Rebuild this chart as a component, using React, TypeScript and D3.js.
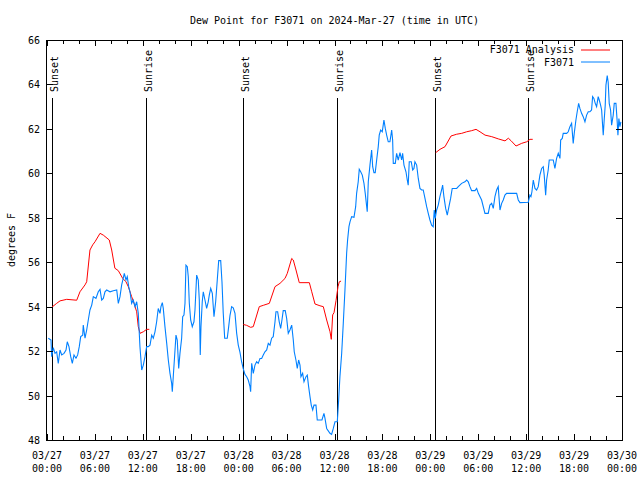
import React from "react";
import * as d3 from "d3";

const title = "Dew Point for F3071 on 2024-Mar-27 (time in UTC)";
const yLabel = "degrees F";
const yTicks = [48, 50, 52, 54, 56, 58, 60, 62, 64, 66];
const xTickHours = [0, 6, 12, 18, 24, 30, 36, 42, 48, 54, 60, 66, 72];
const xTickDates = ["03/27", "03/27", "03/27", "03/27", "03/28", "03/28", "03/28", "03/28", "03/29", "03/29", "03/29", "03/29", "03/30"];
const xTickTimes = ["00:00", "06:00", "12:00", "18:00", "00:00", "06:00", "12:00", "18:00", "00:00", "06:00", "12:00", "18:00", "00:00"];
const sunHours = [0.59, 12.43, 24.58, 36.35, 48.63, 60.27];
const sunLabels = ["Sunset", "Sunrise", "Sunset", "Sunrise", "Sunset", "Sunrise"];
const seriesNames = ["F3071 Analysis", "F3071"];
const seriesColors = ["#ff0000", "#0080ff"];

const analysis1: [number, number][] = [[0.59,53.97],[1.21,54.15],[1.63,54.26],[2.47,54.33],[3.72,54.29],[4.13,54.67],[4.76,54.98],[4.97,55.12],[5.38,56.55],[5.72,56.78],[6.01,56.92],[6.64,57.3],[7.05,57.22],[7.80,57.0],[8.10,56.55],[8.50,55.73],[8.93,55.62],[9.48,55.27],[9.89,55.12],[10.18,54.9],[10.60,54.45],[10.90,54.15],[11.23,53.77],[11.43,53.1],[11.65,52.8],[12.06,52.87],[12.48,52.98],[12.81,52.98]];
const analysis2: [number, number][] = [[24.58,53.2],[25.0,53.16],[25.5,53.07],[25.83,53.1],[26.58,54.0],[27.08,54.06],[27.84,54.15],[28.55,54.9],[29.18,55.05],[29.8,55.27],[30.09,55.5],[30.64,56.17],[30.84,56.1],[31.18,55.65],[31.59,55.08],[32.85,55.08],[33.15,54.67],[33.56,54.12],[34.18,54.04],[34.6,54.0],[35.02,53.4],[35.44,52.87],[35.6,52.53],[35.77,53.63],[35.94,53.73],[36.19,54.27],[36.44,54.9],[36.6,55.12],[36.82,55.15]];
const analysis3: [number, number][] = [[48.67,60.93],[49.21,61.08],[49.84,61.2],[50.59,61.68],[51.3,61.76],[51.93,61.8],[52.55,61.87],[53.18,61.92],[53.72,61.98],[54.22,61.87],[54.85,61.72],[55.69,61.65],[56.51,61.55],[57.35,61.46],[57.77,61.58],[58.1,61.47],[58.73,61.23],[59.44,61.35],[60.07,61.42],[60.48,61.53],[60.82,61.53]];

const observed: [number, number][] = [[0.16,52.58],[0.50,52.5],[0.59,51.75],[0.79,52.16],[1.00,51.9],[1.21,51.97],[1.41,51.45],[1.63,52.05],[1.84,51.83],[2.13,51.9],[2.38,52.05],[2.54,52.42],[2.75,52.2],[2.97,51.75],[3.17,51.45],[3.38,51.83],[3.63,51.68],[3.84,51.83],[4.04,52.2],[4.22,52.65],[4.47,52.72],[4.54,53.17],[4.76,52.58],[4.97,52.95],[5.17,53.4],[5.38,53.85],[5.60,54.07],[5.80,54.45],[6.13,54.37],[6.42,54.67],[6.64,54.78],[6.85,54.3],[7.05,54.37],[7.26,54.67],[7.47,54.75],[7.89,54.67],[8.30,54.72],[8.73,54.75],[8.93,54.15],[9.14,54.45],[9.35,54.98],[9.55,55.28],[9.68,55.5],[9.89,55.2],[10.05,55.35],[10.23,54.9],[10.39,54.67],[10.60,54.15],[10.80,54.3],[11.02,54.0],[11.23,54.22],[11.43,53.7],[11.64,52.2],[11.86,51.15],[12.06,51.37],[12.27,51.75],[12.48,52.2],[12.68,52.2],[12.90,52.27],[13.11,52.72],[13.31,52.58],[13.52,52.87],[13.73,53.32],[13.93,53.92],[14.15,53.7],[14.27,54.0],[14.44,54.18],[14.56,53.92],[14.77,53.1],[14.99,52.35],[15.19,51.6],[15.40,51.0],[15.61,50.55],[15.69,50.17],[15.81,50.85],[16.03,52.05],[16.15,52.72],[16.31,52.5],[16.49,51.22],[16.65,51.9],[16.86,52.58],[16.99,53.55],[17.15,53.62],[17.28,54.15],[17.40,55.87],[17.57,55.8],[17.69,55.35],[17.82,54.15],[17.99,53.4],[18.19,53.1],[18.40,53.32],[18.53,53.85],[18.74,55.42],[18.94,55.2],[19.07,54.3],[19.19,51.82],[19.28,53.1],[19.44,54.22],[19.57,54.67],[19.78,54.3],[19.99,53.92],[20.19,54.22],[20.32,54.52],[20.50,54.82],[20.70,54.6],[20.91,53.55],[21.12,54.22],[21.32,55.2],[21.50,56.07],[21.75,56.07],[21.91,55.12],[22.07,53.7],[22.25,52.58],[22.57,52.58],[22.75,53.1],[22.91,53.6],[23.12,54.0],[23.32,53.95],[23.54,53.7],[23.75,52.8],[23.95,52.27],[24.16,51.95],[24.38,51.5],[24.58,51.2],[24.79,50.95],[25.00,50.85],[25.20,50.7],[25.42,50.4],[25.50,50.17],[25.63,51.45],[25.83,51.0],[26.04,51.37],[26.25,51.52],[26.45,51.45],[26.67,51.67],[26.88,51.67],[27.08,51.82],[27.29,51.97],[27.51,52.05],[27.71,52.35],[27.92,52.27],[28.13,52.58],[28.33,52.65],[28.55,53.32],[28.67,53.77],[28.88,53.77],[29.08,53.32],[29.26,53.02],[29.42,53.4],[29.58,53.82],[29.83,53.82],[30.01,53.47],[30.21,52.8],[30.42,52.95],[30.64,53.17],[30.84,52.5],[30.96,51.97],[31.17,51.6],[31.34,51.22],[31.51,51.6],[31.68,51.37],[31.80,50.85],[32.01,51.0],[32.18,50.62],[32.43,50.85],[32.59,50.92],[32.76,50.4],[32.93,49.95],[33.09,49.57],[33.27,49.35],[33.43,49.57],[33.68,49.57],[33.84,48.9],[34.43,48.9],[34.68,49.2],[34.81,48.97],[35.02,48.52],[35.43,48.3],[35.64,48.25],[35.85,48.52],[36.06,48.82],[36.35,48.82],[36.52,49.8],[36.68,50.85],[36.90,51.9],[37.10,53.25],[37.31,54.75],[37.52,56.4],[37.64,57.0],[37.81,57.6],[37.94,57.82],[38.15,58.05],[38.44,58.02],[38.65,58.5],[38.77,59.1],[38.97,59.62],[39.10,60.18],[39.28,60.07],[39.48,59.92],[39.69,59.55],[39.85,59.1],[40.03,58.5],[40.10,58.27],[40.23,59.62],[40.44,60.37],[40.65,61.05],[40.78,60.3],[40.94,60.03],[41.10,60.03],[41.28,60.6],[41.48,61.2],[41.60,61.72],[41.78,61.95],[41.98,61.87],[42.10,62.17],[42.19,62.4],[42.36,62.02],[42.53,61.72],[42.73,61.42],[42.94,61.42],[43.16,61.95],[43.28,61.5],[43.36,60.45],[43.61,60.45],[43.78,60.9],[43.98,60.6],[44.20,60.93],[44.41,60.6],[44.53,60.9],[44.70,60.37],[44.95,60.07],[45.11,59.7],[45.23,59.47],[45.36,60.52],[45.61,60.52],[45.79,60.15],[45.95,60.22],[46.07,60.52],[46.29,60.37],[46.49,59.77],[46.70,59.32],[46.91,59.25],[47.11,59.25],[47.33,58.87],[47.54,58.5],[47.74,58.2],[47.95,57.9],[48.16,57.67],[48.36,57.6],[48.49,58.35],[48.61,57.97],[48.79,58.35],[48.99,58.57],[49.20,58.95],[49.41,59.25],[49.54,59.47],[49.70,58.95],[49.92,58.42],[50.12,58.12],[50.33,58.5],[50.54,58.87],[50.74,59.32],[51.30,59.32],[51.50,59.4],[51.92,59.55],[52.33,59.62],[52.55,59.7],[52.75,59.62],[52.96,59.4],[53.17,59.22],[53.59,59.22],[53.80,59.32],[54.01,59.1],[54.42,58.8],[54.84,58.2],[55.25,58.2],[55.46,58.57],[55.68,58.65],[55.88,58.42],[56.09,58.95],[56.30,59.25],[56.50,59.4],[56.72,58.35],[56.93,58.65],[57.13,58.8],[57.34,59.02],[57.55,59.1],[58.81,59.1],[59.01,58.8],[59.22,58.68],[60.26,58.7],[60.47,59.02],[60.60,58.95],[60.72,59.17],[60.89,59.7],[61.10,59.32],[61.31,59.25],[61.51,59.4],[61.72,59.92],[61.94,60.22],[62.14,60.3],[62.26,59.92],[62.44,59.02],[62.56,59.7],[62.76,60.15],[62.89,60.6],[63.39,60.6],[63.60,60.22],[63.81,60.67],[64.02,60.9],[64.23,60.67],[64.32,61.5],[64.52,61.57],[64.64,61.8],[65.07,61.8],[65.27,61.87],[65.48,62.1],[65.69,62.25],[65.89,61.35],[66.02,61.8],[66.23,62.4],[66.39,62.77],[66.57,63.15],[66.73,62.92],[66.94,62.7],[67.14,62.55],[67.36,62.32],[67.57,62.62],[67.77,62.77],[67.98,62.77],[68.19,62.85],[68.32,63.45],[68.48,63.37],[68.65,63.15],[68.82,63.0],[69.02,63.45],[69.15,63.3],[69.32,63.07],[69.45,62.85],[69.57,62.17],[69.65,61.72],[69.77,62.4],[69.90,63.07],[69.99,63.97],[70.15,64.4],[70.27,64.1],[70.40,63.15],[70.57,62.85],[70.70,62.17],[70.90,62.62],[71.03,63.15],[71.24,63.15],[71.40,62.32],[71.49,61.72],[71.61,62.47],[71.74,62.1],[71.86,62.32]];

const W = 640;
const H = 480;
const L = 47, R = 622, T = 40, B = 440;
const FONT = "'DejaVu Sans Mono', monospace";

export default function App() {
  const x = d3.scaleLinear().domain([0, 72]).range([L, R]);
  const y = d3.scaleLinear().domain([48, 66]).range([B, T]);
  const line = d3.line<[number, number]>().x((d) => x(d[0])).y((d) => y(d[1]));
  const minorHours = d3.range(0, 73, 2);

  return (
    <svg width={W} height={H} style={{ position: "absolute", left: 0, top: 0, background: "#fff" }} fontFamily={FONT} fontSize={10}>
      <rect x={0} y={0} width={W} height={H} fill="#fff" />
      {/* sunrise / sunset markers */}
      {sunHours.map((h, i) => (
        <g key={"s" + i}>
          <line x1={Math.round(x(h)) + 0.5} x2={Math.round(x(h)) + 0.5} y1={98} y2={B} stroke="#000" strokeWidth={1} shapeRendering="crispEdges" />
          <text transform={`translate(${Math.round(x(h)) + 5.5},${92}) rotate(-90)`} textAnchor="start" fill="#000">{sunLabels[i]}</text>
        </g>
      ))}
      {/* data */}
      {[analysis1, analysis2, analysis3].map((seg, i) => (
        <path key={"a" + i} d={line(seg) || ""} fill="none" stroke={seriesColors[0]} strokeWidth={1} />
      ))}
      <path d={line(observed) || ""} fill="none" stroke={seriesColors[1]} strokeWidth={1.1} />
      {/* border */}
      <rect x={L - 0.5} y={T + 0.5} width={R - L + 0.5} height={B - T} fill="none" stroke="#000" strokeWidth={1} shapeRendering="crispEdges" />
      {/* x ticks */}
      {minorHours.map((h) => {
        const major = h % 6 === 0;
        const len = major ? 6 : 4;
        const xx = Math.round(x(h)) + 0.5;
        return (
          <g key={"xt" + h}>
            <line x1={xx} x2={xx} y1={B} y2={B - len} stroke="#000" shapeRendering="crispEdges" />
            <line x1={xx} x2={xx} y1={T} y2={T + len} stroke="#000" shapeRendering="crispEdges" />
          </g>
        );
      })}
      {xTickHours.map((h, i) => (
        <g key={"xl" + h}>
          <text x={x(h)} y={459} textAnchor="middle" fill="#000">{xTickDates[i]}</text>
          <text x={x(h)} y={472} textAnchor="middle" fill="#000">{xTickTimes[i]}</text>
        </g>
      ))}
      {/* y ticks */}
      {yTicks.map((v) => {
        const yy = Math.round(y(v)) + 0.5;
        return (
          <g key={"yt" + v}>
            <line x1={L} x2={L + 6} y1={yy} y2={yy} stroke="#000" shapeRendering="crispEdges" />
            <line x1={R} x2={R - 6} y1={yy} y2={yy} stroke="#000" shapeRendering="crispEdges" />
            <text x={40} y={y(v) + 4} textAnchor="end" fill="#000">{v}</text>
          </g>
        );
      })}
      {/* axis label */}
      <text transform={`translate(${15},${240}) rotate(-90)`} textAnchor="middle" fill="#000">{yLabel}</text>
      {/* title */}
      <text x={(L + R) / 2} y={24} textAnchor="middle" fill="#000">{title}</text>
      {/* legend */}
      {seriesNames.map((name, i) => (
        <g key={"lg" + i}>
          <text x={574} y={53 + i * 12.5} textAnchor="end" fill="#000">{name}</text>
          <line x1={581} x2={610} y1={50 + i * 12} y2={50 + i * 12} stroke={seriesColors[i]} strokeWidth={1} />
        </g>
      ))}
    </svg>
  );
}
